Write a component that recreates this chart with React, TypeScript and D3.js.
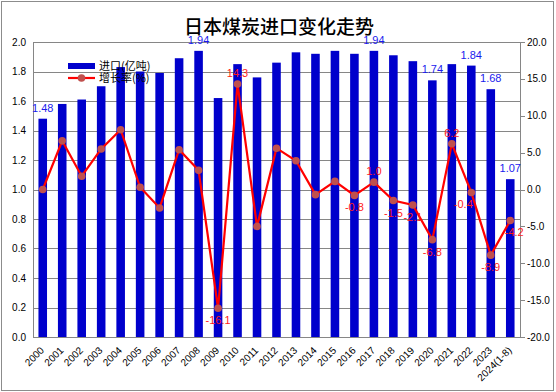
import React from 'react';
import * as d3 from 'd3';

const years = ['2000', '2001', '2002', '2003', '2004', '2005', '2006', '2007', '2008', '2009', '2010', '2011', '2012',
  '2013', '2014', '2015', '2016', '2017', '2018', '2019', '2020', '2021', '2022', '2023', '2024(1-8)'];
const imports = [1.48, 1.58, 1.61, 1.70, 1.83, 1.80, 1.79, 1.89, 1.94, 1.62, 1.85, 1.76, 1.86,
  1.93, 1.92, 1.94, 1.92, 1.94, 1.91, 1.87, 1.74, 1.85, 1.84, 1.68, 1.07];
const growth = [0, 6.6, 1.8, 5.5, 8.1, 0.3, -2.5, 5.4, 2.6, -16.1, 14.3, -5.0, 5.6,
  3.9, -0.7, 1.1, -0.8, 1.0, -1.5, -2.1, -6.8, 6.2, -0.4, -8.9, -4.2];
// which data labels are shown
const barLabelShown = [0, 8, 17, 20, 22, 23, 24];
const growthLabelShown = [9, 10, 16, 17, 18, 19, 20, 21, 22, 23, 24];
const leftTicks = [0, 0.2, 0.4, 0.6, 0.8, 1.0, 1.2, 1.4, 1.6, 1.8, 2.0];
const rightTicks = [-20, -15, -10, -5, 0, 5, 10, 15, 20];

const W = 556;
const H = 392;
const margin = { top: 42, right: 36, bottom: 55, left: 33 };
const font = '"Liberation Sans", Arial, sans-serif';
const cjk = '"Noto Sans CJK SC", sans-serif';

const App = () => {
  const x = d3.scaleBand<string>()
    .domain(years)
    .range([margin.left, W - margin.right])
    .paddingInner(0.56)
    .paddingOuter(0.28);
  const y = d3.scaleLinear().domain([0, 2]).range([H - margin.bottom, margin.top]);
  const y2 = d3.scaleLinear().domain([-20, 20]).range([H - margin.bottom, margin.top]);
  const cx = (i: number) => (x(years[i]) as number) + x.bandwidth() / 2;

  const line = d3.line<number>()
    .x((_, i) => cx(i))
    .y(d => y2(d));

  const left = margin.left;
  const right = W - margin.right;
  const bottom = H - margin.bottom;

  return (
    <svg width={W} height={H} style={{ position: 'absolute', left: 0, top: 0, background: '#fff' }}>
      <rect x={1.5} y={1.5} width={552} height={389} fill="#fff" stroke="#8c8c8c" />
      <text x={279} y={34} textAnchor="middle" fontFamily={cjk} fontSize={19} fontWeight={500} fill="#000">
        日本煤炭进口变化走势
      </text>

      {leftTicks.map(t => (
        <g key={'l' + t}>
          <line x1={left} x2={right} y1={Math.round(y(t)) + 0.5} y2={Math.round(y(t)) + 0.5} stroke="#868686" />
          <text x={26} y={y(t)} dy="0.35em" textAnchor="end" fontFamily={font} fontSize={10} fill="#000">
            {t.toFixed(1)}
          </text>
        </g>
      ))}
      <line x1={left + 0.5} x2={left + 0.5} y1={margin.top} y2={bottom} stroke="#868686" />
      <line x1={right + 0.5} x2={right + 0.5} y1={margin.top} y2={bottom} stroke="#868686" />
      {rightTicks.map(t => (
        <g key={'r' + t}>
          <line x1={right} x2={right + 5} y1={Math.round(y2(t)) + 0.5} y2={Math.round(y2(t)) + 0.5} stroke="#868686" />
          <text x={527} y={y2(t)} dy="0.35em" textAnchor="start" fontFamily={font} fontSize={10} fill="#000">
            {t.toFixed(1)}
          </text>
        </g>
      ))}

      {imports.map((v, i) => (
        <rect key={'b' + i} x={x(years[i])} y={y(v)} width={x.bandwidth()} height={bottom - y(v)} fill="#0000cc" />
      ))}

      {years.map((yr, i) => (
        <text key={'x' + i} transform={`translate(${cx(i) + 2},${bottom + 14}) rotate(-45)`}
          textAnchor="end" fontFamily={font} fontSize={10} fill="#000">
          {yr}
        </text>
      ))}

      <path d={line(growth) as string} fill="none" stroke="#ff0000" strokeWidth={2.2} />
      {growth.map((v, i) => (
        <circle key={'c' + i} cx={cx(i)} cy={y2(v)} r={3.8} fill="#c0504d" />
      ))}

      {barLabelShown.map(i => (
        <text key={'bl' + i} x={cx(i)} y={y(imports[i]) - 7} textAnchor="middle" fontFamily={font} fontSize={11} fill="#1a1aee">
          {imports[i].toFixed(2)}
        </text>
      ))}
      {growthLabelShown.map(i => {
        const above = growth[i] >= 1;
        const dx = i === 22 ? -8 : i === 24 ? 4 : 0;
        return (
          <text key={'gl' + i} x={cx(i) + dx} y={above ? y2(growth[i]) - 7 : y2(growth[i]) + 16}
            textAnchor="middle" fontFamily={font} fontSize={11} fill="#ff1a1a">
            {growth[i].toFixed(1)}
          </text>
        );
      })}

      <g>
        <rect x={68} y={63} width={27} height={6} fill="#0000cc" />
        <text x={99} y={66} dy="0.35em" fontFamily={cjk} fontSize={11} fill="#000">进口(亿吨)</text>
        <line x1={68} x2={95} y1={78} y2={78} stroke="#ff0000" strokeWidth={2.2} />
        <circle cx={81.5} cy={78} r={3.8} fill="#c0504d" />
        <text x={99} y={78} dy="0.35em" fontFamily={cjk} fontSize={11} fill="#000">增长率(%)</text>
      </g>
    </svg>
  );
};

export default App;
